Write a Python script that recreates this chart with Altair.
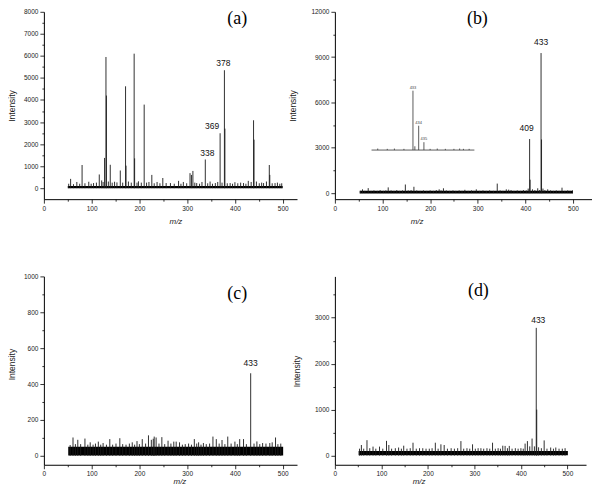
import altair as alt
import pandas as pd

SANS = "Liberation Sans"
NARROW = "Liberation Sans Narrow, Liberation Sans"
SERIF = "Liberation Serif"

# ---------------- Panel (a) ----------------
a_mz = [52, 56, 62, 69, 75, 80, 86, 94, 99, 104, 110, 116, 121, 124, 127, 130, 131, 135, 139, 143,
        148, 153, 160, 165, 171, 172, 177, 183, 189, 190, 195, 198, 204, 210, 215, 220, 226, 231, 237, 243,
        249, 256, 265, 273, 282, 287, 292, 299, 306, 309, 312, 316, 320, 326, 331, 338, 343, 348, 353, 359,
        364, 369, 373, 378, 379, 384, 390, 395, 400, 406, 412, 418, 423, 428, 434, 439, 440, 445, 451, 456,
        460, 466, 472, 473, 478, 484, 489, 494, 498]
a_int = [200, 420, 180, 280, 200, 1050, 220, 290, 200, 230, 250, 620, 350, 280, 1370, 5950, 4200, 300, 1060, 250,
         290, 260, 800, 250, 4620, 1020, 300, 250, 6100, 1350, 250, 310, 250, 3790, 250, 280, 600, 220, 280, 220,
         460, 230, 230, 200, 330, 200, 280, 220, 680, 600, 780, 250, 230, 200, 280, 1300, 220, 300, 200, 230,
         280, 2490, 250, 5350, 2700, 220, 230, 200, 270, 220, 250, 230, 200, 330, 280, 3080, 2200, 300, 220, 250,
         230, 300, 1050, 600, 220, 230, 250, 200, 220]
a_band = [50, 500, -10, 100]
a_labels = ["338", "369", "378"]

# ---------------- Panel (b) ----------------
b_mz = [54, 58, 63, 70, 76, 82, 89, 95, 102, 107, 112, 118, 124, 130, 136, 142, 148, 154, 160, 166,
        172, 179, 186, 193, 200, 207, 213, 219, 223, 228, 234, 241, 248, 254, 261, 267, 273, 280, 287, 292,
        297, 304, 311, 318, 325, 333, 341, 347, 353, 360, 365, 370, 376, 383, 390, 396, 402, 406, 409, 410,
        415, 420, 426, 430, 433, 434, 437, 441, 447, 453, 459, 465, 471, 477, 483, 489, 494, 499]
b_int = [150, 250, 150, 330, 150, 180, 150, 200, 150, 180, 380, 180, 150, 200, 150, 180, 570, 180, 200, 420,
         180, 150, 180, 150, 180, 150, 200, 250, 180, 320, 180, 150, 180, 150, 180, 150, 220, 150, 180, 150,
         250, 150, 180, 150, 180, 150, 630, 180, 150, 250, 230, 200, 150, 180, 150, 200, 180, 300, 3580, 890,
         250, 200, 320, 200, 9270, 3550, 300, 200, 250, 180, 150, 180, 150, 360, 150, 180, 150, 180]
b_band = [52, 500, -30, 150]
b_labels = ["409", "433"]
# inset spectrum drawn inside panel (b)
inset_base = 2850
inset_range = [77, 293]
inset_mz = [90, 110, 125, 145, 164, 168, 176, 187, 200, 215, 232, 250, 262, 270, 282]
inset_int = [2950, 2930, 2950, 2930, 6780, 3100, 4460, 3370, 2930, 2950, 2930, 2930, 2950, 2930, 2930]
inset_labels = ["433", "434", "435"]
inset_label_mz = [164, 176, 187]

# ---------------- Panel (c) ----------------
c_mz = [55, 61, 66, 71, 77, 86, 92, 97, 103, 108, 114, 119, 124, 131, 138, 144, 151, 159, 165, 172,
        179, 185, 190, 195, 200, 206, 213, 219, 225, 229, 231, 235, 241, 247, 253, 260, 266, 272, 277, 284,
        290, 296, 303, 309, 315, 320, 324, 329, 334, 340, 347, 354, 361, 367, 373, 379, 385, 392, 400, 405,
        410, 418, 424, 433, 440, 446, 452, 458, 465, 473, 478, 485, 490, 496]
c_int = [60, 102, 65, 89, 65, 96, 62, 75, 62, 68, 79, 62, 71, 62, 93, 62, 68, 98, 65, 62,
         68, 75, 62, 82, 65, 93, 68, 114, 89, 95, 107, 102, 68, 104, 65, 84, 68, 79, 79, 75,
         62, 65, 68, 62, 93, 68, 75, 62, 71, 65, 68, 107, 93, 68, 88, 65, 107, 68, 79, 65,
         93, 93, 65, 460, 68, 80, 65, 71, 68, 71, 75, 102, 65, 68]
c_band = [51, 501, 2, 50]
c_labels = ["433"]

# ---------------- Panel (d) ----------------
d_mz = [53, 57, 62, 69, 75, 82, 88, 96, 103, 111, 116, 122, 130, 137, 143, 148, 155, 162, 168, 175,
        182, 189, 196, 203, 209, 216, 222, 228, 235, 242, 250, 257, 264, 271, 277, 284, 290, 296, 302, 308,
        314, 320, 327, 333, 339, 345, 351, 356, 361, 366, 371, 375, 381, 388, 394, 400, 405, 409, 414, 419,
        424, 429, 433, 434, 438, 444, 450, 456, 464, 470, 475, 482, 489, 495]
d_int = [150, 230, 150, 335, 160, 195, 150, 195, 150, 320, 230, 150, 160, 175, 150, 215, 150, 160, 280, 150,
         160, 160, 150, 150, 160, 280, 150, 245, 230, 150, 160, 150, 160, 315, 150, 160, 150, 245, 150, 160,
         160, 150, 160, 150, 280, 150, 160, 150, 215, 210, 160, 210, 150, 160, 150, 160, 150, 260, 315, 200,
         370, 200, 2780, 1000, 180, 160, 330, 150, 175, 150, 175, 150, 150, 160]
d_band = [51, 501, 5, 100]
d_labels = ["433"]


def panel(mz, inten, band, xdom, ydom, w, h, yticks, yminor, xminor,
          ytitle_x, ytitle_y, xtitle_x, xtitle_y, tag, tag_x, tag_y,
          labels, label_dx, label_dy, inset=None):
    peaks = pd.DataFrame({"mz": mz, "I": inten})
    bdf = pd.DataFrame({"x0": [band[0]], "x1": [band[1]], "y0": [band[2]], "y1": [band[3]]})
    xs = alt.Scale(domain=xdom, nice=False, zero=False)
    ys = alt.Scale(domain=ydom, nice=False, zero=False)

    common = dict(grid=False, domainColor="#000", domainWidth=1, tickColor="#000", tickWidth=0.8,
                  labelFont=NARROW, labelFontSize=6.5, labelColor="#222", labelFlush=False,
                  labelOverlap=False, labelPadding=2, format="d")
    xmaj = alt.Axis(values=[0, 100, 200, 300, 400, 500], tickSize=4, title="m/z",
                    titleFont=SANS, titleFontStyle="italic", titleFontWeight="normal",
                    titleFontSize=8, titleColor="#222", titleX=xtitle_x, titleY=xtitle_y,
                    titleAlign="center", titleBaseline="middle", **common)
    xmin = alt.Axis(values=xminor, tickSize=2, labels=False, domain=False, title=None,
                    grid=False, tickColor="#000", tickWidth=0.8, orient="bottom")
    ymaj = alt.Axis(values=yticks, tickSize=4, title="Intensity", titleFont=SANS,
                    titleFontWeight="normal", titleFontSize=8.5, titleColor="#222",
                    titleAngle=270, titleX=ytitle_x, titleY=ytitle_y, titleAlign="center",
                    titleBaseline="middle", **common)
    ymin = alt.Axis(values=yminor, tickSize=2, labels=False, domain=False, title=None,
                    grid=False, tickColor="#000", tickWidth=0.8, orient="left")

    layers = []
    layers.append(alt.Chart(bdf).mark_rect(color="#000").encode(
        x=alt.X("x0:Q", scale=xs, axis=xmaj), x2="x1:Q",
        y=alt.Y("y0:Q", scale=ys, axis=ymaj), y2="y1:Q"))
    layers.append(alt.Chart(peaks).mark_rule(color="#1a1a1a", strokeWidth=0.9).encode(
        x=alt.X("mz:Q", scale=xs, axis=xmin),
        y=alt.Y("I:Q", scale=ys, axis=ymin), y2=alt.datum(0)))

    if inset is not None:
        base, rng, imz, iint, ilab, ilabmz = inset
        idf = pd.DataFrame({"mz": imz, "I": iint})
        layers.append(alt.Chart(pd.DataFrame({"x0": [rng[0]], "x1": [rng[1]], "y": [base]}))
                      .mark_rule(color="#333", strokeWidth=0.8).encode(
            x=alt.X("x0:Q", scale=xs, axis=None), x2="x1:Q",
            y=alt.Y("y:Q", scale=ys, axis=None)))
        layers.append(alt.Chart(idf).mark_rule(color="#333", strokeWidth=0.8).encode(
            x=alt.X("mz:Q", scale=xs, axis=None),
            y=alt.Y("I:Q", scale=ys, axis=None), y2=alt.datum(base)))
        ldf = pd.DataFrame({"mz": ilabmz, "t": ilab})
        ldf["I"] = [iint[imz.index(m)] for m in ilabmz]
        layers.append(alt.Chart(ldf).mark_text(font=SANS, fontSize=4, color="#444",
                                               baseline="bottom", dy=-1).encode(
            x=alt.X("mz:Q", scale=xs, axis=None),
            y=alt.Y("I:Q", scale=ys, axis=None), text="t:N"))

    for lab, dx, dy in zip(labels, label_dx, label_dy):
        m = int(lab)
        ldf = pd.DataFrame({"mz": [m], "I": [inten[mz.index(m)]], "t": [lab]})
        layers.append(alt.Chart(ldf).mark_text(font=SANS, fontSize=8.5, color="#111",
                                               baseline="middle", dx=dx, dy=dy).encode(
            x=alt.X("mz:Q", scale=xs, axis=None),
            y=alt.Y("I:Q", scale=ys, axis=None), text="t:N"))

    layers.append(alt.Chart(pd.DataFrame({"t": [tag]})).mark_text(
        font=SERIF, fontSize=18, color="#000", baseline="middle", align="center").encode(
        x=alt.value(tag_x), y=alt.value(tag_y), text="t:N"))

    return alt.layer(*layers).resolve_axis(x="independent", y="independent").properties(
        width=w, height=h)


pa = panel(a_mz, a_int, a_band, [0, 530], [-500, 8000], 254, 188,
           list(range(0, 8001, 1000)), list(range(500, 8000, 1000)),
           [50, 150, 250, 350, 450],
           -32, 94, 132, 22, "(a)", 194, 7,
           a_labels, [2, -8, -1], [-7, -7, -7])
pb = panel(b_mz, b_int, b_band, [0, 540], [-400, 12000], 258, 188,
           [0, 3000, 6000, 9000, 12000], [1500, 4500, 7500, 10500],
           [50, 150, 250, 350, 450],
           -43, 94, 82, 22, "(b)", 143, 7,
           b_labels, [-3, 0], [-11, -11],
           inset=(inset_base, inset_range, inset_mz, inset_int, inset_labels, inset_label_mz))
pc = panel(c_mz, c_int, c_band, [0, 530], [-50, 1000], 254, 189,
           list(range(0, 1001, 200)), list(range(100, 1000, 200)),
           [50, 150, 250, 350, 450],
           -32, 88, 136, 17, "(c)", 194, 18,
           c_labels, [0], [-10])
pd_ = panel(d_mz, d_int, d_band, [0, 540], [-200, 3900], 252, 189,
            [0, 1000, 2000, 3000], [500, 1500, 2500, 3500],
            [50, 150, 250, 350, 450],
            -39, 95, 84, 17, "(d)", 144, 15,
            d_labels, [2, 0], [-8, -8])

chart = alt.concat(pa, pb, pc, pd_, columns=2, bounds="flush",
                   spacing={"row": 77.5, "column": 38}).properties(
    padding={"left": 0, "top": 0, "right": 0, "bottom": 0},
    background="#ffffff").configure_view(stroke=None)

chart.save("out.html", embed_options={"renderer": "svg", "actions": False})
